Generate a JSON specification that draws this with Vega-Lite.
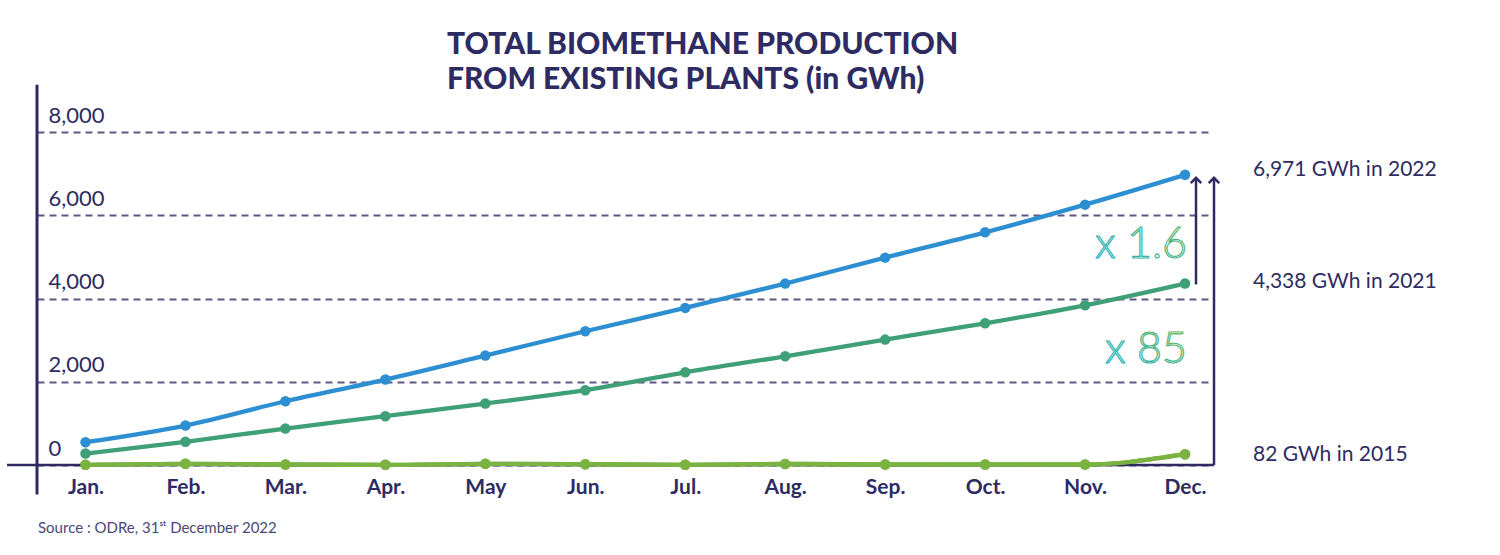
{
  "$schema": "https://vega.github.io/schema/vega-lite/v6.json",
  "width": 1176,
  "height": 333,
  "autosize": {"type": "none"},
  "padding": {"left": 37, "top": 132, "right": 287, "bottom": 90},
  "background": "white",
  "config": {"view": {"stroke": null}, "font": "Lato"},
  "title": {
    "text": ["TOTAL BIOMETHANE PRODUCTION", "FROM EXISTING PLANTS (in GWh)"],
    "anchor": "start",
    "align": "left",
    "frame": "group",
    "dx": 410,
    "offset": -36,
    "fontSize": 30,
    "fontWeight": 900,
    "font": "Lato",
    "color": "#2e2b62",
    "lineHeight": 35,
    "baseline": "alphabetic"
  },
  "datasets": {
    "production": [
      {"month": 1, "year": "2015", "value": 5},
      {"month": 2, "year": "2015", "value": 29},
      {"month": 3, "year": "2015", "value": 12},
      {"month": 4, "year": "2015", "value": 5},
      {"month": 5, "year": "2015", "value": 29},
      {"month": 6, "year": "2015", "value": 19},
      {"month": 7, "year": "2015", "value": 5},
      {"month": 8, "year": "2015", "value": 24},
      {"month": 9, "year": "2015", "value": 12},
      {"month": 10, "year": "2015", "value": 12},
      {"month": 11, "year": "2015", "value": 12},
      {"month": 12, "year": "2015", "value": 260},
      {"month": 1, "year": "2021", "value": 276},
      {"month": 2, "year": "2021", "value": 557},
      {"month": 3, "year": "2021", "value": 876},
      {"month": 4, "year": "2021", "value": 1172},
      {"month": 5, "year": "2021", "value": 1477},
      {"month": 6, "year": "2021", "value": 1796},
      {"month": 7, "year": "2021", "value": 2228},
      {"month": 8, "year": "2021", "value": 2612},
      {"month": 9, "year": "2021", "value": 3013},
      {"month": 10, "year": "2021", "value": 3405},
      {"month": 11, "year": "2021", "value": 3837},
      {"month": 12, "year": "2021", "value": 4360},
      {"month": 1, "year": "2022", "value": 547},
      {"month": 2, "year": "2022", "value": 948},
      {"month": 3, "year": "2022", "value": 1532},
      {"month": 4, "year": "2022", "value": 2053},
      {"month": 5, "year": "2022", "value": 2629},
      {"month": 6, "year": "2022", "value": 3213},
      {"month": 7, "year": "2022", "value": 3774},
      {"month": 8, "year": "2022", "value": 4358},
      {"month": 9, "year": "2022", "value": 4982},
      {"month": 10, "year": "2022", "value": 5590},
      {"month": 11, "year": "2022", "value": 6255},
      {"month": 12, "year": "2022", "value": 6971}
    ],
    "frameLines": [
      {"kind": "vertical", "x": 0.5148, "x2": 0.5148, "y": -708, "y2": 9136},
      {"kind": "baseline", "x": 0.215, "x2": 12.29, "y": 0, "y2": 0}
    ],
    "arrows": [
      {"x": 12.11, "from": 4338, "to": 6900},
      {"x": 12.29, "from": 0, "to": 6900}
    ],
    "endLabels": [
      {"x": 12.68, "y": 6951, "text": "6,971 GWh in 2022"},
      {"x": 12.68, "y": 4255, "text": "4,338 GWh in 2021"},
      {"x": 12.68, "y": 91, "text": "82 GWh in 2015"}
    ],
    "factors": [
      {"x": 12.02, "y": 4982, "text": "x 1.6"},
      {"x": 12.02, "y": 2461, "text": "x 85"}
    ],
    "source": [
      {"x": 0.525, "y": -1645, "text": "Source : ODRe, 31ˢᵗ December 2022"}
    ]
  },
  "layer": [
    {
      "data": {"name": "production"},
      "mark": {"type": "line", "interpolate": "monotone", "strokeWidth": 4.3, "point": {"filled": true, "size": 110}},
      "encoding": {
        "x": {
          "field": "month", "type": "quantitative", "title": null,
          "scale": {"domain": [0.5148, 12.28], "nice": false, "zero": false},
          "axis": {
            "values": [1, 2, 3, 4, 5, 6, 7, 8, 9, 10, 11, 12],
            "labelExpr": "['','Jan.','Feb.','Mar.','Apr.','May','Jun.','Jul.','Aug.','Sep.','Oct.','Nov.','Dec.'][datum.value]",
            "domain": false, "ticks": false, "tickSize": 0, "grid": false,
            "labelPadding": 11, "labelFontSize": 21, "labelFontWeight": "bold",
            "labelColor": "#2e2b62", "labelFont": "Lato", "labelFlush": false, "labelOverlap": false,
            "title": null
          }
        },
        "y": {
          "field": "value", "type": "quantitative", "title": null,
          "scale": {"domain": [0, 8000], "nice": false},
          "axis": {
            "values": [0, 2000, 4000, 6000, 8000],
            "labelExpr": "format(datum.value, ',')",
            "grid": true, "gridDash": [7, 5], "gridColor": "#5c5786", "gridWidth": 1.8,
            "domain": false, "ticks": false, "tickSize": 0,
            "labelAlign": "left", "labelPadding": -11, "labelBaseline": "alphabetic", "labelOffset": -10,
            "labelFontSize": 22, "labelColor": "#2e2b62", "labelFont": "Lato", "labelFlush": false,
            "title": null
          }
        },
        "color": {
          "field": "year", "type": "nominal",
          "scale": {"domain": ["2015", "2021", "2022"], "range": ["#7ab341", "#3f9f77", "#2d8fd1"]},
          "legend": null
        }
      }
    },
    {
      "data": {"name": "frameLines"},
      "transform": [{"filter": "datum.kind == 'vertical'"}],
      "mark": {"type": "rule", "color": "#2e2b62", "strokeWidth": 3},
      "encoding": {
        "x": {"field": "x", "type": "quantitative", "title": null},
        "x2": {"field": "x2"},
        "y": {"field": "y", "type": "quantitative", "title": null},
        "y2": {"field": "y2"}
      }
    },
    {
      "data": {"name": "frameLines"},
      "transform": [{"filter": "datum.kind == 'baseline'"}],
      "mark": {"type": "rule", "color": "#2e2b62", "strokeWidth": 2.5},
      "encoding": {
        "x": {"field": "x", "type": "quantitative", "title": null},
        "x2": {"field": "x2"},
        "y": {"field": "y", "type": "quantitative", "title": null},
        "y2": {"field": "y2"}
      }
    },
    {
      "data": {"name": "production"},
      "transform": [{"filter": "datum.year == '2015'"}],
      "mark": {"type": "line", "interpolate": "monotone", "strokeWidth": 4.3, "color": "#7ab341", "point": {"filled": true, "size": 110, "color": "#7ab341"}},
      "encoding": {
        "x": {"field": "month", "type": "quantitative", "title": null},
        "y": {"field": "value", "type": "quantitative", "title": null}
      }
    },
    {
      "data": {"name": "arrows"},
      "mark": {"type": "rule", "color": "#2e2b62", "strokeWidth": 2.5},
      "encoding": {
        "x": {"field": "x", "type": "quantitative", "title": null},
        "y": {"field": "from", "type": "quantitative", "title": null},
        "y2": {"field": "to"}
      }
    },
    {
      "data": {"name": "arrows"},
      "mark": {"type": "point", "shape": "M-1,1L0,0L1,1", "filled": false, "size": 110, "stroke": "#2e2b62", "strokeWidth": 2.5, "opacity": 1},
      "encoding": {
        "x": {"field": "x", "type": "quantitative", "title": null},
        "y": {"field": "to", "type": "quantitative", "title": null}
      }
    },
    {
      "data": {"name": "endLabels"},
      "mark": {"type": "text", "align": "left", "baseline": "alphabetic", "fontSize": 21, "font": "Lato", "color": "#2e2b62"},
      "encoding": {
        "x": {"field": "x", "type": "quantitative", "title": null},
        "y": {"field": "y", "type": "quantitative", "title": null},
        "text": {"field": "text"}
      }
    },
    {
      "data": {"name": "factors"},
      "mark": {
        "type": "text", "align": "right", "baseline": "alphabetic", "fontSize": 43, "font": "Lato", "fontWeight": 300,
        "fill": "white",
        "stroke": {"gradient": "linear", "x1": 0, "y1": 1, "x2": 1, "y2": 0, "stops": [{"offset": 0, "color": "#12b0d6"}, {"offset": 1, "color": "#6db646"}]},
        "strokeWidth": 1.2
      },
      "encoding": {
        "x": {"field": "x", "type": "quantitative", "title": null},
        "y": {"field": "y", "type": "quantitative", "title": null},
        "text": {"field": "text"}
      }
    },
    {
      "data": {"name": "source"},
      "mark": {"type": "text", "align": "left", "baseline": "alphabetic", "fontSize": 15, "font": "Lato", "color": "#4a4878"},
      "encoding": {
        "x": {"field": "x", "type": "quantitative", "title": null},
        "y": {"field": "y", "type": "quantitative", "title": null},
        "text": {"field": "text"}
      }
    }
  ]
}
